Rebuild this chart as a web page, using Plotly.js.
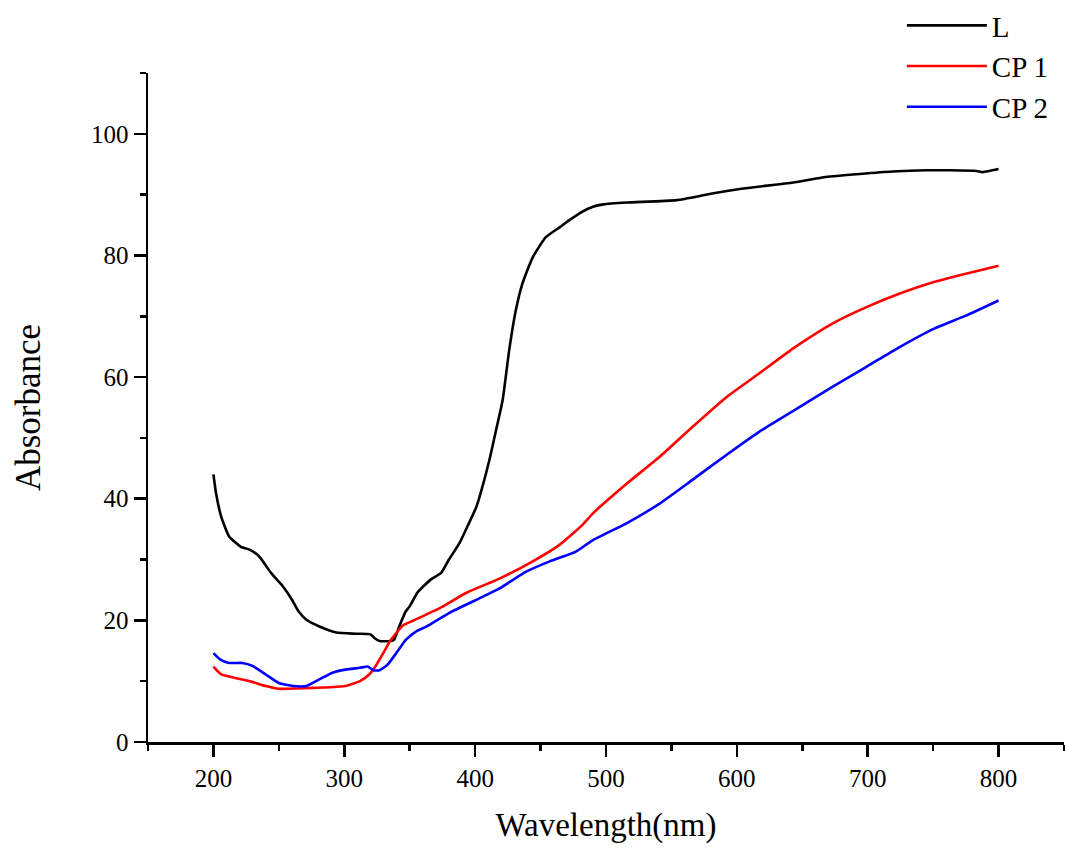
<!DOCTYPE html>
<html>
<head>
<meta charset="utf-8">
<script src="https://cdn.plot.ly/plotly-3.0.1.min.js"></script>
<style>html,body{margin:0;padding:0;background:#fff;}#chart{width:1068px;height:850px;}</style>
</head>
<body>
<div id="chart"></div>
<script>
// Series L
const lWave = [200,202,206,212,221,228,235,244,253,260,265,271,281,294,309,320,323,327,335,338,342,347,350,356,366,374,380,388,394,401,407,412,416,421,426,431,436,444,454,465,472,482,490,498,516,554,579,605,643,668,694,719,745,763,783,788,800];
const lAbs  = [44,40.9,37,33.8,32.1,31.6,30.5,27.8,25.6,23.4,21.5,20.1,19.0,18.0,17.8,17.7,17.1,16.6,16.6,16.8,19,21.5,22.3,24.6,26.7,27.8,30,32.7,35.4,38.7,43.1,47.4,51.3,56.2,64.4,70.9,75.3,79.7,83,84.7,85.8,87.2,88,88.4,88.7,89.1,90.1,91.0,92.0,92.9,93.4,93.8,94.0,94.0,93.9,93.7,94.2];
// Series CP 1
const cp1Wave = [200,206,215,228,240,250,263,276,289,301,312,319,324,330,335,342,345,352,358,373,393,419,444,465,482,490,516,541,566,592,617,645,673,699,724,750,775,800];
const cp1Abs  = [12.4,11.1,10.6,10.0,9.2,8.75,8.8,8.9,9.0,9.2,10.0,11.1,12.5,14.7,16.6,18.5,19.2,19.9,20.5,22.0,24.5,26.9,29.7,32.5,35.7,37.6,42.5,46.9,51.8,56.7,60.6,65.0,68.8,71.5,73.7,75.6,77.0,78.3];
// Series CP 2
const cp2Wave = [200,205,212,222,230,240,250,261,271,281,291,301,312,318,322,327,333,340,347,355,363,380,406,419,439,457,477,490,516,541,566,592,617,645,673,699,724,750,775,800];
const cp2Abs  = [14.6,13.6,13.0,13.0,12.5,11.1,9.7,9.2,9.2,10.3,11.4,11.9,12.2,12.4,11.8,11.8,12.7,14.7,16.8,18.2,19.0,21.2,23.9,25.3,28.0,29.7,31.3,33.2,36.0,39.2,43.1,47.2,51.0,54.7,58.4,61.7,64.9,67.9,70.1,72.6];

const seriesNames = ['L','CP 1','CP 2'];
const seriesColors = ['#000000','#ff0000','#0000ff'];

const FONT = 'Liberation Serif, Times New Roman, serif';

const traces = [
  {x: lWave, y: lAbs},
  {x: cp1Wave, y: cp1Abs},
  {x: cp2Wave, y: cp2Abs}
].map((t, i) => ({
  x: t.x, y: t.y, type: 'scatter', mode: 'lines', name: seriesNames[i],
  legendgroup: 'g' + i,
  line: {color: seriesColors[i], width: 2.6, shape: 'spline', smoothing: 0.5}
}));

const axisCommon = {
  showgrid: false, zeroline: false, showline: true, linecolor: '#000', linewidth: 2.5,
  ticks: 'outside', ticklen: 12, tickwidth: 2.5, tickcolor: '#000',
  tickfont: {family: FONT, size: 25, color: '#000'},
  mirror: false, automargin: false
};

const layout = {
  width: 1068, height: 850,
  margin: {l: 148, r: 4, t: 0, b: 108},
  paper_bgcolor: '#fff', plot_bgcolor: '#fff',
  showlegend: true,
  legend: {
    x: 0.823, y: 1.0, xanchor: 'left', yanchor: 'top',
    font: {family: FONT, size: 29, color: '#000'},
    itemwidth: 80, tracegroupgap: 0, bgcolor: 'rgba(0,0,0,0)'
  },
  xaxis: Object.assign({}, axisCommon, {
    range: [150, 850], tick0: 0, dtick: 100,
    minor: {ticks: 'outside', ticklen: 6, tickwidth: 2.5, tickcolor: '#000', dtick: 50, tick0: 0},
    title: {text: 'Wavelength(nm)', font: {family: FONT, size: 33, color: '#000'}, standoff: 23}
  }),
  yaxis: Object.assign({}, axisCommon, {
    range: [0, 110], tick0: 0, dtick: 20, domain: [0, 0.9016],
    minor: {ticks: 'outside', ticklen: 6, tickwidth: 2.5, tickcolor: '#000', dtick: 10, tick0: 0},
    title: {text: 'Absorbance', font: {family: FONT, size: 35, color: '#000'}, standoff: 40}
  })
};

Plotly.newPlot('chart', traces, layout, {displayModeBar: false, staticPlot: true});
</script>
</body>
</html>
